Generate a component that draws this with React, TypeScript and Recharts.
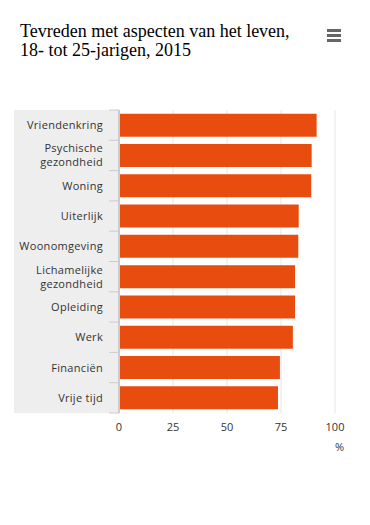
import React from 'react';
import { BarChart, Bar, XAxis, YAxis, CartesianGrid } from 'recharts';

const categories = ['Vriendenkring', 'Psychische gezondheid', 'Woning', 'Uiterlijk', 'Woonomgeving', 'Lichamelijke gezondheid', 'Opleiding', 'Werk', 'Financiën', 'Vrije tijd'];
const values = [91.5, 89.2, 89, 83.2, 83, 81.5, 81.5, 80.5, 74.5, 73.6];
const xTicks = [0, 25, 50, 75, 100];

const data = categories.map((c, i) => ({ name: c, value: values[i] }));

const W = 370;
const H = 525;
const TOP = 110;
const BOTTOM_PLOT = 413;
const LEFT_BAND = 14;
const AXIS_X = 119;
const RIGHT = 35;
const TICK_SIZE = 10;
const TICK_MARGIN = 6;
const X_AXIS_H = 30;
const BAND = (BOTTOM_PLOT - TOP) / categories.length;

const FONT = '"Open Sans", sans-serif';

const YTick = (props: any) => {
  const { x, y, payload, index } = props;
  const words: string[] = String(payload.value).split(' ');
  const lines = payload.value === 'Vrije tijd' ? [payload.value] : words;
  const lh = 14;
  const startDy = -((lines.length - 1) * lh) / 2;
  const axisX = x + TICK_SIZE + TICK_MARGIN;
  return (
    <g>
      <line x1={axisX - TICK_SIZE} x2={axisX} y1={y - BAND / 2} y2={y - BAND / 2} stroke="#cccccc" strokeWidth={1} />
      {index === categories.length - 1 && (
        <line x1={axisX - TICK_SIZE} x2={axisX} y1={y + BAND / 2} y2={y + BAND / 2} stroke="#cccccc" strokeWidth={1} />
      )}
      <text x={x} y={y} textAnchor="end" fill="#333333" fontSize={11} fontFamily={FONT} letterSpacing={0.3}>
        {lines.map((l, i) => (
          <tspan key={i} x={x} dy={i === 0 ? startDy + 4 : lh}>{l}</tspan>
        ))}
      </text>
    </g>
  );
};

export default function App() {
  return (
    <div style={{ position: 'absolute', left: 0, top: 0, width: W, height: H, background: '#fff' }}>
      <div style={{ position: 'absolute', left: LEFT_BAND, top: TOP, width: AXIS_X - LEFT_BAND, height: BOTTOM_PLOT - TOP, background: '#eeeeee' }} />
      <div style={{ position: 'absolute', left: 20, top: 22, fontFamily: '"Liberation Serif", serif', fontSize: 18, lineHeight: '19px', color: '#000' }}>
        Tevreden met aspecten van het leven,<br />18- tot 25-jarigen, 2015
      </div>
      <div style={{ position: 'absolute', left: 327, top: 29 }}>
        {[0, 1, 2].map((i) => (
          <div key={i} style={{ width: 14, height: 3, background: '#666666', marginBottom: 2 }} />
        ))}
      </div>
      <div style={{ position: 'absolute', left: 0, top: 0 }}>
        <BarChart
          width={W}
          height={H}
          data={data}
          layout="vertical"
          margin={{ top: TOP, bottom: H - BOTTOM_PLOT - X_AXIS_H, left: LEFT_BAND, right: RIGHT }}
          barCategoryGap="12%"
        >
          <CartesianGrid horizontal={false} vertical stroke="#e6e6e6" strokeWidth={1} />
          <XAxis
            type="number"
            domain={[0, 100]}
            ticks={xTicks}
            axisLine={false}
            tickLine={false}
            height={X_AXIS_H}
            tickMargin={4}
            tick={{ fill: '#333333', fontSize: 11, fontFamily: FONT }}
            label={{ value: '%', position: 'insideBottomRight', offset: -8, fill: '#333333', fontSize: 11, fontFamily: FONT, dx: 1 }}
          />
          <YAxis
            type="category"
            dataKey="name"
            width={AXIS_X - LEFT_BAND}
            axisLine={{ stroke: '#cccccc', strokeWidth: 2 }}
            tickLine={false}
            tickSize={TICK_SIZE}
            tickMargin={TICK_MARGIN}
            tick={<YTick />}
            interval={0}
          />
          <Bar dataKey="value" fill="#e84c0e" isAnimationActive={false} />
        </BarChart>
      </div>
    </div>
  );
}
